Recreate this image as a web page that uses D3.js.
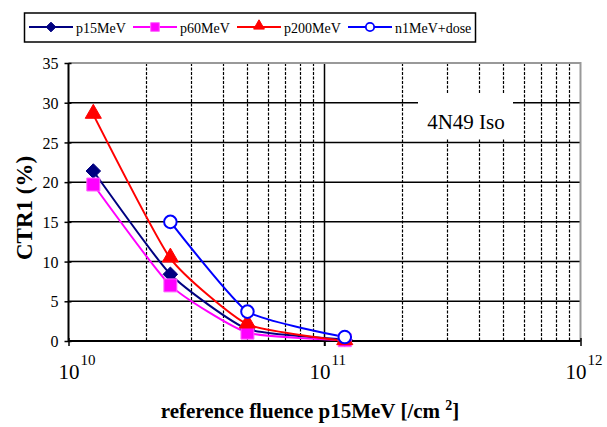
<!DOCTYPE html>
<html>
<head>
<meta charset="utf-8">
<script src="https://cdn.jsdelivr.net/npm/d3@7"></script>
<style>
body { margin: 0; background: #fff; }
</style>
</head>
<body>
<script>
var width = 607;
var height = 427;
var serif = "Liberation Serif";

// data
var fluence = [1.25e10, 2.5e10, 5e10, 1.2e11];
var p15MeV = [21.4, 8.4, 1.5, 0.2];
var p60MeV = [19.7, 7.0, 1.05, 0.1];
var p200MeV = [28.5, 10.4, 2.1, 0.0];
var n1MeVdose = [null, 15.0, 3.7, 0.5];
var yTicks = [0, 5, 10, 15, 20, 25, 30, 35];
var xMajor = [1e10, 1e11, 1e12];

var series = [
  {name: "p15MeV", values: p15MeV, color: "#000080", marker: "diamond"},
  {name: "p60MeV", values: p60MeV, color: "#ff00ff", marker: "square"},
  {name: "p200MeV", values: p200MeV, color: "#ff0000", marker: "triangle"},
  {name: "n1MeV+dose", values: n1MeVdose, color: "#0000ff", marker: "circle"}
];

var plot = {left: 68.5, right: 580.5, top: 63, bottom: 341};

var xScale = d3.scaleLog()
  .domain([1e10, 1e12])
  .range([plot.left, plot.right]);

var yScale = d3.scaleLinear()
  .domain([0, 35])
  .range([plot.bottom, plot.top]);

var svg = d3.select("body")
  .append("svg")
  .attr("width", width)
  .attr("height", height);

// minor vertical gridlines (dashed) and major (solid)
var minor = [];
[1e10, 1e11].forEach(function(d){
  for (var k = 2; k <= 9; k++) minor.push(d * k);
});

svg.selectAll(".vminor")
  .data(minor)
  .enter()
  .append("line")
  .attr("x1", function(d){ return Math.round(xScale(d)) + 0.5; })
  .attr("x2", function(d){ return Math.round(xScale(d)) + 0.5; })
  .attr("y1", plot.top)
  .attr("y2", plot.bottom)
  .attr("stroke", "black")
  .attr("stroke-width", 1.2)
  .attr("stroke-dasharray", "3,1.5");

svg.append("line")
  .attr("x1", xScale(1e11)).attr("x2", xScale(1e11))
  .attr("y1", plot.top).attr("y2", plot.bottom + 5)
  .attr("stroke", "black").attr("stroke-width", 1.5);

// horizontal gridlines
svg.selectAll(".hgrid")
  .data(yTicks.slice(1, 7))
  .enter()
  .append("line")
  .attr("x1", plot.left)
  .attr("x2", plot.right)
  .attr("y1", function(d){ return yScale(d); })
  .attr("y2", function(d){ return yScale(d); })
  .attr("stroke", "black")
  .attr("stroke-width", 1.5);

// gray frame top/right
svg.append("path")
  .attr("d", "M" + plot.left + "," + plot.top + "H" + plot.right + "V" + plot.bottom)
  .attr("fill", "none")
  .attr("stroke", "#999")
  .attr("stroke-width", 2);

// annotation box
svg.append("rect")
  .attr("x", 418).attr("y", 94)
  .attr("width", 95).attr("height", 45)
  .attr("fill", "white");

svg.append("text")
  .attr("x", 466).attr("y", 129)
  .attr("text-anchor", "middle")
  .style("font-family", serif)
  .style("font-size", "21px")
  .text("4N49 Iso");

// axes
var yAxis = d3.axisLeft(yScale)
  .tickValues(yTicks)
  .tickSize(5);

var gy = svg.append("g")
  .attr("transform", "translate(" + plot.left + ",0)")
  .call(yAxis);
gy.select(".domain").attr("stroke", "black").attr("stroke-width", 2)
  .attr("d", "M0," + plot.top + "V" + plot.bottom);
gy.selectAll(".tick line").attr("x1", -4).attr("x2", 3).attr("stroke-width", 1.5);
gy.selectAll(".tick text")
  .attr("x", -10)
  .attr("dy", "0.35em")
  .style("font-size", "16px")
  .style("font-family", serif)
  .attr("fill", "black");

var xAxis = d3.axisBottom(xScale)
  .tickValues(xMajor)
  .tickFormat("");

var gx = svg.append("g")
  .attr("transform", "translate(0," + plot.bottom + ")")
  .call(xAxis);
gx.select(".domain").attr("stroke", "black").attr("stroke-width", 2)
  .attr("d", "M" + plot.left + ",0H" + plot.right);
gx.selectAll(".tick line").attr("y1", -3).attr("y2", 5).attr("stroke-width", 1.5);

svg.selectAll(".xlab")
  .data(xMajor)
  .enter()
  .append("text")
  .attr("x", function(d, i){ return xScale(d) + (i == 0 ? 11 : 6); })
  .attr("y", 379)
  .attr("text-anchor", "end")
  .style("font-family", serif)
  .style("font-size", "21px")
  .text("10");

svg.selectAll(".xexp")
  .data(xMajor)
  .enter()
  .append("text")
  .attr("x", function(d, i){ return xScale(d) + (i == 0 ? 12 : 7); })
  .attr("y", 365)
  .style("font-family", serif)
  .style("font-size", "15px")
  .text(function(d){ return Math.round(Math.log10(d)); });

// axis titles
var xt = svg.append("text")
  .attr("x", 310)
  .attr("y", 418)
  .attr("text-anchor", "middle")
  .style("font-family", serif)
  .style("font-size", "21px")
  .style("font-weight", "bold");
xt.append("tspan").text("reference fluence p15MeV [/cm ");
xt.append("tspan").attr("dy", -8).style("font-size", "14px").text("2");
xt.append("tspan").attr("dy", 8).text("]");

svg.append("text")
  .attr("transform", "translate(32,208) rotate(-90)")
  .attr("text-anchor", "middle")
  .style("font-family", serif)
  .style("font-size", "23px")
  .style("font-weight", "bold")
  .text("CTR1 (%)");

// lines
var line = d3.line()
  .defined(function(d){ return d[1] != null; })
  .x(function(d){ return xScale(d[0]); })
  .y(function(d){ return yScale(d[1]); })
  .curve(d3.curveCardinal.tension(0.5));

function markerPath(type, s) {
  if (type == "diamond") return d3.symbol().type(d3.symbolDiamond2).size(s * s * 0.6)();
  if (type == "square") return d3.symbol().type(d3.symbolSquare).size(s * s * 0.75)();
  if (type == "triangle") return d3.symbol().type(d3.symbolTriangle).size(s * s * 0.5)();
  return d3.symbol().type(d3.symbolCircle).size(s * s * 0.55)();
}

series.forEach(function(s){
  var pts = fluence.map(function(f, i){ return [f, s.values[i]]; })
    .filter(function(d){ return d[1] != null; });
  svg.append("path")
    .attr("d", line(pts))
    .attr("fill", "none")
    .attr("stroke", s.color)
    .attr("stroke-width", 2);
});

series.forEach(function(s){
  var pts = fluence.map(function(f, i){ return [f, s.values[i]]; })
    .filter(function(d){ return d[1] != null; });
  svg.selectAll(null)
    .data(pts)
    .enter()
    .append("path")
    .attr("transform", function(d){
      var dy = s.marker == "triangle" ? -1 : 0;
      return "translate(" + xScale(d[0]) + "," + (yScale(d[1]) + dy) + ")";
    })
    .attr("d", markerPath(s.marker, 15))
    .attr("fill", s.marker == "circle" ? "white" : s.color)
    .attr("stroke", s.marker == "square" ? "#ff66ff" : s.color)
    .attr("stroke-width", s.marker == "circle" ? 2 : 1);
});

// legend
svg.append("rect")
  .attr("x", 24.5).attr("y", 13)
  .attr("width", 451).attr("height", 29)
  .attr("fill", "white")
  .attr("stroke", "black")
  .attr("stroke-width", 1.5);

var legX = [29, 133, 237, 348];
series.forEach(function(s, i){
  var g = svg.append("g").attr("transform", "translate(" + legX[i] + ",27)");
  g.append("line")
    .attr("x1", 0).attr("x2", 44)
    .attr("stroke", s.color).attr("stroke-width", 2);
  g.append("path")
    .attr("transform", "translate(22," + (s.marker == "triangle" ? -1 : 0) + ")")
    .attr("d", markerPath(s.marker, 10))
    .attr("fill", s.marker == "circle" ? "white" : s.color)
    .attr("stroke", s.marker == "square" ? "#ff66ff" : s.color)
    .attr("stroke-width", s.marker == "circle" ? 1.8 : 1);
  g.append("text")
    .attr("x", 47).attr("y", 6)
    .style("font-family", serif)
    .style("font-size", "14px")
    .text(s.name);
});
</script>
</body>
</html>
